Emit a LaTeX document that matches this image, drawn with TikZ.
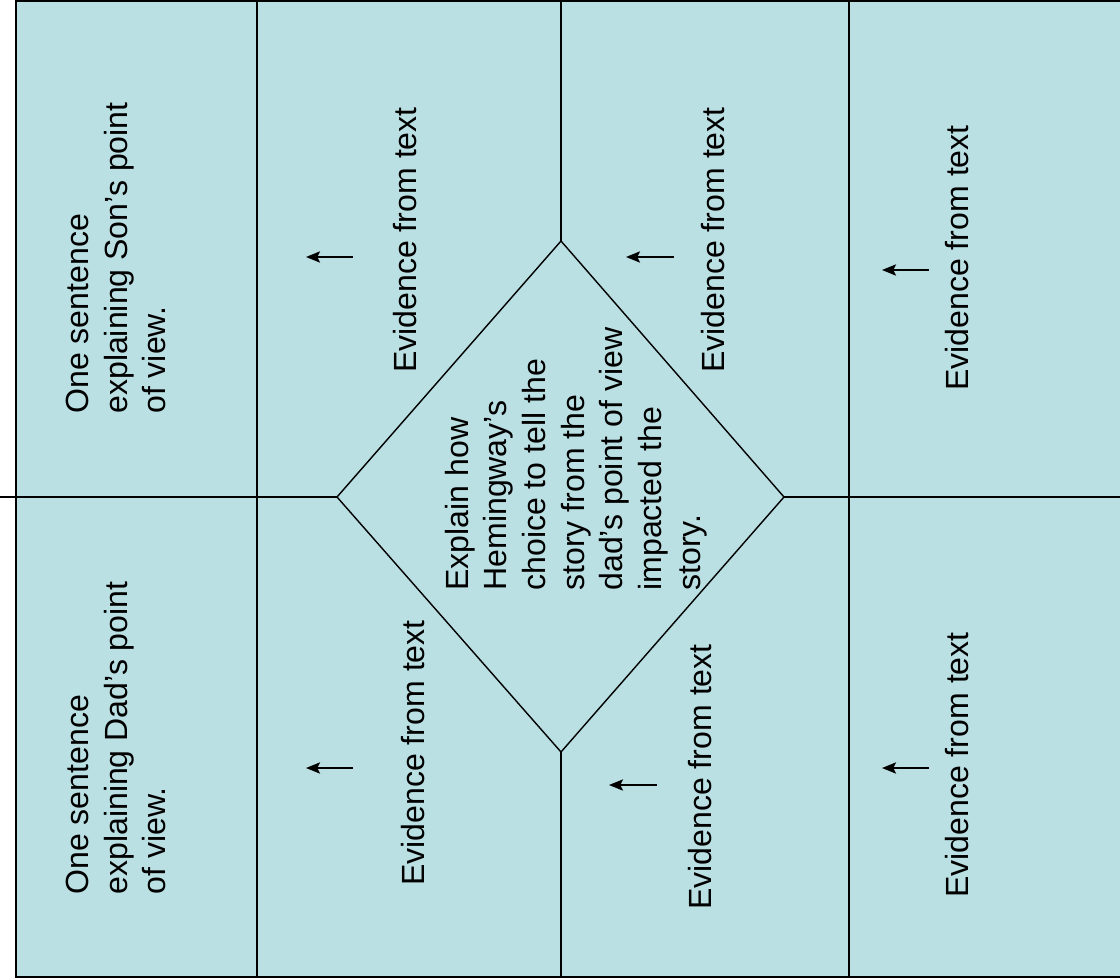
\documentclass[tikz,border=0pt]{standalone}
\usepackage{fontspec}
\setmainfont{Liberation Sans}
\usetikzlibrary{arrows.meta}
\definecolor{cellfill}{RGB}{186,224,227}

\begin{document}
\begin{tikzpicture}[
    x=0.025cm,y=-0.025cm,
    rule/.style={line width=1.5pt},
    edge/.style={line width=1pt},
    note/.style={rotate=90,align=left,inner sep=0pt,font=\fontsize{22.8}{27.5}\selectfont},
    pointer/.style={-{Stealth[length=10pt,width=8pt,inset=2pt]},line width=1.3pt}
]
\useasboundingbox (0,0) rectangle (1120,980);

%--- Background of the organiser ---%
\fill[cellfill] (16,1) rectangle (1125,977);

%--- Corners of the centre diamond ---%
\coordinate (dtop) at (561,241);
\coordinate (deast) at (784,497);
\coordinate (dbot) at (561,752);
\coordinate (dwest) at (337,497);

%--- Grid lines ---%
\draw[rule] (1125,1) -- (16,1) -- (16,977) -- (1125,977);
\draw[rule] (257,1) -- (257,977);
\draw[rule] (849,1) -- (849,977);
\draw[rule] (561,1) -- (dtop);
\draw[rule] (dbot) -- (561,977);
\draw[rule] (0,497) -- (dwest);
\draw[rule] (deast) -- (1120,497);

% the diamond itself
\draw[edge] (dtop) -- (deast) -- (dbot) -- (dwest) -- cycle;

%--- Texts ---%
\node[note] (sonview) at (116,258) {One sentence\\explaining Son’s point\\of view.};
\node[note] (dadview) at (116,738) {One sentence\\explaining Dad’s point\\of view.};
\node[note] (centre) at (576,459) {Explain how\\Hemingway’s\\choice to tell the\\story from the\\dad’s point of view\\impacted the\\story.};

\node[note] (evtwoa) at (405,240) {Evidence from text};
\node[note] (evtwob) at (413,753) {Evidence from text};
\node[note] (evthreea) at (713,240) {Evidence from text};
\node[note] (evthreeb) at (700,777) {Evidence from text};
\node[note] (evfoura) at (957,258) {Evidence from text};
\node[note] (evfourb) at (957,765) {Evidence from text};

%--- Small arrows pointing left ---%
\coordinate (atwoa) at (353,257);   \coordinate (ttwoa) at (306,257);
\coordinate (atwob) at (353,768);   \coordinate (ttwob) at (306,768);
\coordinate (athreea) at (674,257); \coordinate (tthreea) at (626,257);
\coordinate (athreeb) at (657,785); \coordinate (tthreeb) at (609,785);
\coordinate (afoura) at (929,270);  \coordinate (tfoura) at (882,270);
\coordinate (afourb) at (929,768);  \coordinate (tfourb) at (882,768);

\draw[pointer] (atwoa) -- (ttwoa);
\draw[pointer] (atwob) -- (ttwob);
\draw[pointer] (athreea) -- (tthreea);
\draw[pointer] (athreeb) -- (tthreeb);
\draw[pointer] (afoura) -- (tfoura);
\draw[pointer] (afourb) -- (tfourb);

\end{tikzpicture}
\end{document}
